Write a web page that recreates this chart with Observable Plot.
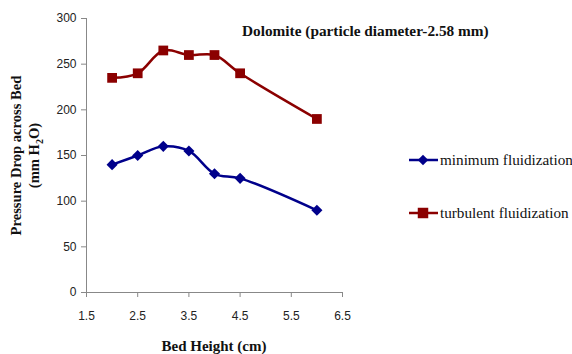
<!DOCTYPE html>
<html><head><meta charset="utf-8">
<script src="https://cdn.jsdelivr.net/npm/d3@7"></script>
<script src="https://cdn.jsdelivr.net/npm/@observablehq/plot@0.6"></script>
<style>body{margin:0;background:#fff}#c{position:relative;width:572px;height:354px}</style>
</head><body><div id="c"></div>
<script>
const bedHeight = [2, 2.5, 3, 3.5, 4, 4.5, 6];
const minFluid = [140, 150, 160, 155, 130, 125, 90];
const turbFluid = [235, 240, 265, 260, 260, 240, 190];
const xTicks = [1.5, 2.5, 3.5, 4.5, 5.5, 6.5];
const yTicks = [0, 50, 100, 150, 200, 250, 300];
const seriesNames = ["minimum fluidization", "turbulent fluidization"];
const colors = ["#00008B", "#8B0000"];

const minData = bedHeight.map((x, i) => ({x, y: minFluid[i]}));
const turbData = bedHeight.map((x, i) => ({x, y: turbFluid[i]}));

const sans = "'Liberation Sans', Arial, sans-serif";
const serif = "'Liberation Serif', 'Times New Roman', serif";

const chart = Plot.plot({
  width: 572, height: 354,
  marginLeft: 86, marginRight: 230, marginTop: 18, marginBottom: 62,
  style: {fontFamily: sans, fontSize: "12px", color: "#222", background: "#fff"},
  x: {domain: [1.5, 6.5], ticks: xTicks, tickFormat: d3.format(".1f")},
  y: {domain: [0, 300], ticks: yTicks},
  marks: [
    Plot.axisX({ticks: xTicks, tickFormat: d3.format(".1f"), tickSize: 5, tickPadding: 14, stroke: "#888", label: null, fontSize: 12}),
    Plot.axisY({ticks: yTicks, tickSize: 5, tickPadding: 5, stroke: "#888", label: null, fontSize: 12}),
    Plot.ruleX([1.5], {stroke: "#888"}),
    Plot.ruleY([0], {stroke: "#888"}),
    Plot.line(turbData, {x: "x", y: "y", stroke: colors[1], strokeWidth: 2.5, curve: "catmull-rom"}),
    Plot.dot(turbData, {x: "x", y: "y", symbol: "square", fill: colors[1], r: 5.5}),
    Plot.line(minData, {x: "x", y: "y", stroke: colors[0], strokeWidth: 2.5, curve: "catmull-rom"}),
    Plot.dot(minData, {x: "x", y: "y", symbol: "diamond2", fill: colors[0], r: 5})
  ]
});
document.getElementById("c").appendChild(chart);

const svg = d3.select(chart);
// title
svg.append("text").attr("x", 242).attr("y", 36).attr("text-anchor", "start").attr("font-family", serif).attr("font-weight", "bold")
  .attr("font-size", 15.3).attr("fill", "#111").text("Dolomite (particle diameter-2.58 mm)");
// x label
svg.append("text").attr("x", 214).attr("y", 351).attr("text-anchor", "middle").attr("font-family", serif)
  .attr("font-weight", "bold").attr("font-size", 15).attr("fill", "#111").text("Bed Height (cm)");
// y label
const yl = svg.append("text").attr("transform", "translate(21,155.5) rotate(-90)").attr("text-anchor", "middle")
  .attr("font-family", serif).attr("font-weight", "bold").attr("font-size", 14.6).attr("fill", "#111");
yl.text("Pressure Drop across Bed");
const yl2 = svg.append("text").attr("transform", "translate(39,155.5) rotate(-90)").attr("text-anchor", "middle")
  .attr("font-family", serif).attr("font-weight", "bold").attr("font-size", 14.6).attr("fill", "#111");
yl2.append("tspan").text("(mm H");
yl2.append("tspan").attr("font-size", 10).attr("dy", 4).text("2");
yl2.append("tspan").attr("dy", -4).text("O)");
// legend
const legY = [160, 213];
const syms = [d3.symbolDiamond2, d3.symbolSquare];
const symSize = [70, 110];
seriesNames.forEach((name, i) => {
  const g = svg.append("g");
  g.append("line").attr("x1", 409).attr("x2", 438).attr("y1", legY[i]).attr("y2", legY[i])
    .attr("stroke", colors[i]).attr("stroke-width", 2.5);
  g.append("path").attr("d", d3.symbol(syms[i], symSize[i])()).attr("transform", `translate(423,${legY[i]})`).attr("fill", colors[i]);
  g.append("text").attr("x", 440).attr("y", legY[i] + 5).attr("text-anchor", "start").attr("font-family", serif).attr("font-size", 15.2)
    .attr("fill", "#111").text(name);
});
</script>
</body></html>
